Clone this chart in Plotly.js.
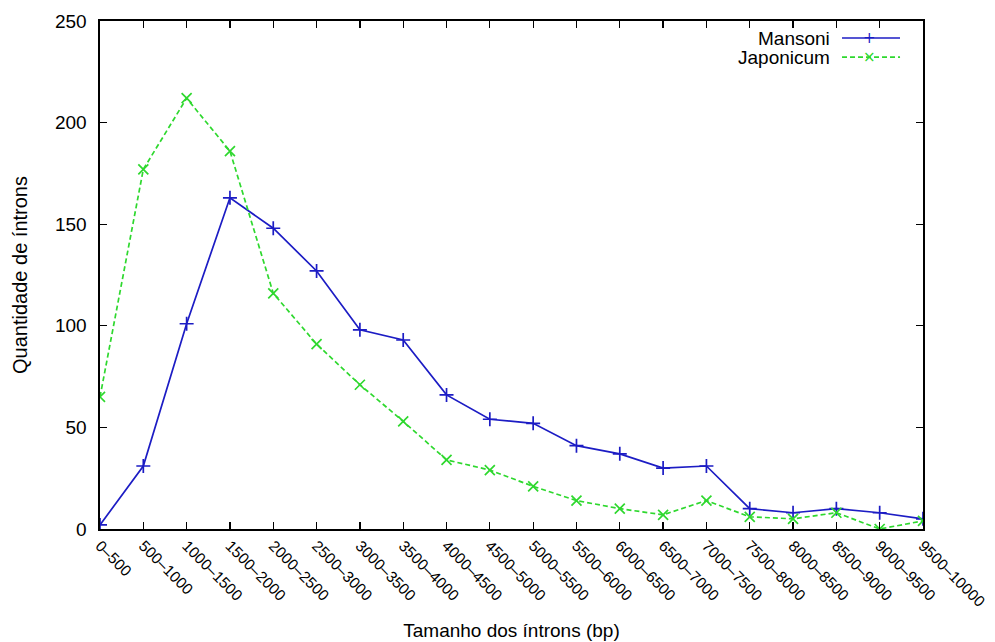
<!DOCTYPE html>
<html>
<head>
<meta charset="utf-8">
<script src="https://cdn.plot.ly/plotly-3.0.1.min.js"></script>
<style>html,body{margin:0;padding:0;background:#fff;}#chart{width:995px;height:642px;}</style>
</head>
<body>
<div id="chart"></div>
<script>
const categories = ["0–500","500–1000","1000–1500","1500–2000","2000–2500","2500–3000","3000–3500","3500–4000","4000–4500","4500–5000","5000–5500","5500–6000","6000–6500","6500–7000","7000–7500","7500–8000","8000–8500","8500–9000","9000–9500","9500–10000"];
const mansoni = [2,31,101,163,148,127,98,93,66,54,52,41,37,30,31,10,8,10,8,5];
const japonicum = [65,177,212,186,116,91,71,53,34,29,21,14,10,7,14,6,5,8,0,4];
const seriesNames = ["Mansoni","Japonicum"];

const blue = '#1c1cc4';
const green = '#2ed82e';
const font = 'Liberation Sans, Arial, sans-serif';

const traces = [
  {x: categories, y: mansoni, name: seriesNames[0], type: 'scatter', mode: 'lines+markers',
   line: {color: blue, width: 1.7},
   marker: {symbol: 'cross-thin', size: 10, line: {color: blue, width: 1.7}}},
  {x: categories, y: japonicum, name: seriesNames[1], type: 'scatter', mode: 'lines+markers',
   line: {color: green, width: 1.7, dash: '5px,3px'},
   marker: {symbol: 'x-thin', size: 10, line: {color: green, width: 1.7}}}
];

// legend drawn as shapes + annotations (text left of the sample, gnuplot style)
const legY = [0.9665, 0.929];
const shapes = [];
const annotations = [];
const legColors = [blue, green];
const legDash = ['solid', '5px,3px'];
const legSym = ['+', '×'];
for (let i = 0; i < 2; i++) {
  shapes.push({type: 'line', xref: 'paper', yref: 'paper', x0: 0.9016, x1: 0.9721, y0: legY[i], y1: legY[i],
    line: {color: legColors[i], width: 1.7, dash: legDash[i]}});
  annotations.push({xref: 'paper', yref: 'paper', x: 0.889, y: legY[i], xanchor: 'right', yanchor: 'middle',
    text: seriesNames[i], showarrow: false, font: {family: font, size: 19, color: '#000'}});
  annotations.push({xref: 'paper', yref: 'paper', x: 0.9356, y: legY[i], xanchor: 'center', yanchor: 'middle',
    text: legSym[i], showarrow: false, font: {family: 'DejaVu Sans', size: 15, color: legColors[i]}});
}

const layout = {
  width: 995, height: 642,
  margin: {l: 100, r: 72, t: 21, b: 113},
  paper_bgcolor: '#fff', plot_bgcolor: '#fff',
  showlegend: false,
  font: {family: font, size: 15, color: '#000'},
  xaxis: {
    type: 'category', range: [0, 19], tickangle: 45,
    ticks: 'inside', ticklen: 7, tickcolor: '#000', tickwidth: 1.3,
    showline: true, linecolor: '#000', linewidth: 1.6, mirror: 'ticks',
    showgrid: false, zeroline: false,
    tickfont: {family: font, size: 15.5},
    title: {text: 'Tamanho dos íntrons (bp)', font: {family: font, size: 19}, standoff: 14}
  },
  yaxis: {
    range: [0, 250], dtick: 50, tick0: 0,
    ticks: 'inside', ticklen: 7, tickcolor: '#000', tickwidth: 1.3,
    showline: true, linecolor: '#000', linewidth: 1.6, mirror: 'ticks',
    showgrid: false, zeroline: false, ticklabelstandoff: 8,
    tickfont: {family: font, size: 19},
    title: {text: 'Quantidade de íntrons', font: {family: font, size: 20}, standoff: 22}
  },
  shapes: shapes,
  annotations: annotations
};

Plotly.newPlot('chart', traces, layout, {displayModeBar: false, staticPlot: true});
</script>
</body>
</html>
